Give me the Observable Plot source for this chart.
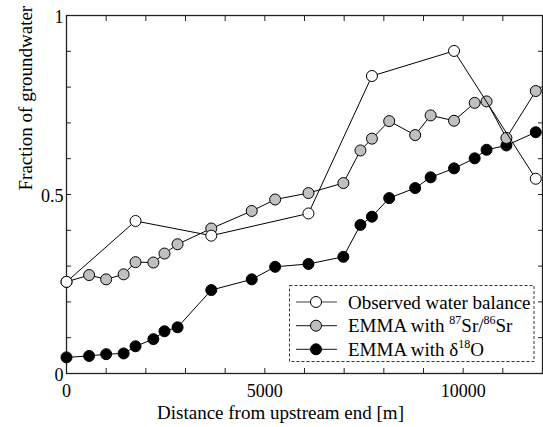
<!DOCTYPE html>
<html>
<head>
<meta charset="utf-8">
<script src="https://cdn.jsdelivr.net/npm/d3@7"></script>
<script src="https://cdn.jsdelivr.net/npm/@observablehq/plot@0.6"></script>
<style>
  html, body { margin: 0; padding: 0; background: #fff; }
  #chart { width: 543px; height: 427px; }
</style>
</head>
<body>
<div id="chart"></div>
<script>
// ---- data ----
const emmaDistance = [0, 570, 1000, 1440, 1740, 2190, 2470, 2800, 3650, 4670, 5260, 6100, 6980, 7410, 7700, 8135, 8790, 9180, 9770, 10290, 10590, 11090, 11830];
const srFraction   = [0.256, 0.275, 0.263, 0.277, 0.311, 0.310, 0.335, 0.361, 0.405, 0.454, 0.486, 0.504, 0.532, 0.623, 0.656, 0.705, 0.666, 0.721, 0.706, 0.756, 0.760, 0.658, 0.789];
const o18Fraction  = [0.045, 0.049, 0.054, 0.056, 0.076, 0.096, 0.118, 0.129, 0.233, 0.263, 0.298, 0.306, 0.326, 0.415, 0.438, 0.490, 0.518, 0.548, 0.573, 0.601, 0.625, 0.637, 0.674];
const obsDistance  = [0, 1740, 3650, 6100, 7700, 9770, 11830];
const obsFraction  = [0.256, 0.426, 0.385, 0.447, 0.831, 0.901, 0.544];
const xTicks = [0, 1000, 2000, 3000, 4000, 5000, 6000, 7000, 8000, 9000, 10000, 11000, 12000];
const xLabels = [0, 5000, 10000];
const yTicks = [0, 0.1, 0.2, 0.3, 0.4, 0.5, 0.6, 0.7, 0.8, 0.9, 1];
const yLabels = [0, 0.5, 1];
const seriesNames = ["Observed water balance", "EMMA with 87Sr/86Sr", "EMMA with δ18O"];
const seriesFill = ["#ffffff", "#c0c0c0", "#000000"];

const sr = emmaDistance.map((d, i) => ({x: d, y: srFraction[i]}));
const o18 = emmaDistance.map((d, i) => ({x: d, y: o18Fraction[i]}));
const obs = obsDistance.map((d, i) => ({x: d, y: obsFraction[i]}));

const FONT = "'Liberation Serif', 'Times New Roman', serif";
const R = 5.5;

const plot = Plot.plot({
  width: 543,
  height: 427,
  marginLeft: 66,
  marginRight: 1,
  marginTop: 15,
  marginBottom: 54,
  style: {fontFamily: FONT, fontSize: "18px", background: "#fff", color: "#000"},
  x: {domain: [0, 12000]},
  y: {domain: [0, 1]},
  marks: [
    // inward ticks
    Plot.axisX({anchor: "bottom", ticks: xTicks, tickSize: -5, tickFormat: () => "", label: null, stroke: "#222"}),
    Plot.axisX({anchor: "top", ticks: xTicks, tickSize: -5, tickFormat: () => "", label: null, stroke: "#222"}),
    Plot.axisY({anchor: "left", ticks: yTicks, tickSize: -5, tickFormat: () => "", label: null, stroke: "#222"}),
    Plot.axisY({anchor: "right", ticks: yTicks, tickSize: -5, tickFormat: () => "", label: null, stroke: "#222"}),
    // labels
    Plot.axisX({anchor: "bottom", ticks: xLabels, tickSize: 0, tickPadding: 11, tickFormat: d => String(d), label: null, fontSize: 18}),
    Plot.axisY({anchor: "left", ticks: yLabels, tickSize: 0, tickPadding: 3, dy: 2, tickFormat: d => String(d), label: null, fontSize: 18}),
    Plot.frame({stroke: "#222", strokeWidth: 1.3}),
    // series
    Plot.line(o18, {x: "x", y: "y", stroke: "#000", strokeWidth: 1}),
    Plot.dot(o18, {x: "x", y: "y", r: R, fill: seriesFill[2], stroke: "#000", strokeWidth: 1}),
    Plot.line(sr, {x: "x", y: "y", stroke: "#000", strokeWidth: 1}),
    Plot.dot(sr, {x: "x", y: "y", r: R, fill: seriesFill[1], stroke: "#000", strokeWidth: 1}),
    Plot.line(obs, {x: "x", y: "y", stroke: "#000", strokeWidth: 1}),
    Plot.dot(obs, {x: "x", y: "y", r: R, fill: seriesFill[0], stroke: "#000", strokeWidth: 1}),
    // axis titles
    Plot.text(["Distance from upstream end [m]"], {frameAnchor: "bottom", dx: -24, dy: 45, fontSize: 19, fill: "#000"}),
    Plot.text(["Fraction of groundwater"], {frameAnchor: "left", rotate: -90, dx: -41, dy: -4, fontSize: 19, fill: "#000"})
  ]
});
document.getElementById("chart").appendChild(plot);

// ---- legend (inside the plot, bottom-right) ----
const svg = d3.select(plot);
const lg = svg.append("g").style("font-family", FONT).style("font-size", "19px").style("text-anchor", "start");
lg.append("rect").attr("x", 289.5).attr("y", 285.5).attr("width", 244.5).attr("height", 76)
  .attr("fill", "#fff").attr("stroke", "#333").attr("stroke-width", 1).attr("stroke-dasharray", "3,2");
const rowY = [302, 325.7, 349.3];
rowY.forEach((yy, i) => {
  lg.append("line").attr("x1", 296).attr("x2", 337).attr("y1", yy).attr("y2", yy).attr("stroke", "#444").attr("stroke-width", 1.2);
  lg.append("circle").attr("cx", 316).attr("cy", yy).attr("r", R).attr("fill", seriesFill[i]).attr("stroke", "#000");
  const t = lg.append("text").attr("x", 348).attr("y", yy + 6.5).attr("fill", "#000").attr("text-anchor", "start");
  if (i === 0) {
    t.text(seriesNames[0]);
  } else if (i === 1) {
    t.append("tspan").text("EMMA with ");
    t.append("tspan").attr("dy", -8).style("font-size", "12px").text("87");
    t.append("tspan").attr("dy", 8).text("Sr/");
    t.append("tspan").attr("dy", -8).style("font-size", "12px").text("86");
    t.append("tspan").attr("dy", 8).text("Sr");
  } else {
    t.append("tspan").text("EMMA with δ");
    t.append("tspan").attr("dy", -8).style("font-size", "12px").text("18");
    t.append("tspan").attr("dy", 8).text("O");
  }
});
</script>
</body>
</html>
